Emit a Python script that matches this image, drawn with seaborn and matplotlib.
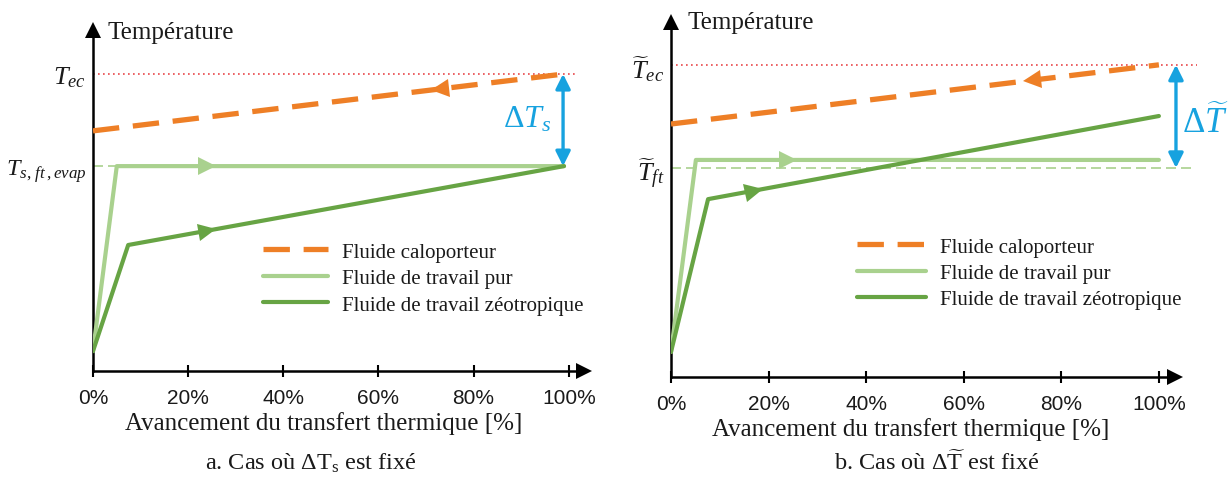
import numpy as np
import pandas as pd
import matplotlib
matplotlib.use("Agg")
import matplotlib.pyplot as plt
import seaborn as sns
from matplotlib.markers import MarkerStyle
from matplotlib.transforms import Affine2D

# ---------------- data (schematic temperature, arbitrary units 0-100) ----------------
x_ticks = [0, 20, 40, 60, 80, 100]
x_tick_labels = ["0%", "20%", "40%", "60%", "80%", "100%"]
series_names = ["Fluide caloporteur", "Fluide de travail pur", "Fluide de travail zéotropique"]

# panel a : Delta T_s fixed
x_calo_a = [0, 99]
T_calo_a = [68.8, 85.1]
x_pur_a = [0, 5, 99]
T_pur_a = [5.7, 58.7, 58.7]
x_zeo_a = [0, 7.4, 99]
T_zeo_a = [5.7, 36.1, 58.7]
T_ec_a = 85.1
T_s_a = 58.7
arrow_pos_a = [73, 24, 24]          # % position of direction arrows (calo, pur, zeo)

# panel b : Delta T~ fixed
x_calo_b = [0, 100]
T_calo_b = [69.7, 86.0]
x_pur_b = [0, 5.1, 100]
T_pur_b = [6.9, 59.8, 59.8]
x_zeo_b = [0, 7.6, 100]
T_zeo_b = [6.9, 49.0, 71.9]
T_ec_b = 86.0
T_ft_b = 57.6
arrow_pos_b = [74, 24, 17]

# ---------------- style ----------------
sns.set_style("white")
plt.rcParams["font.family"] = ["Liberation Serif", "DejaVu Serif"]
plt.rcParams["mathtext.fontset"] = "custom"
plt.rcParams["mathtext.rm"] = "Liberation Serif"
plt.rcParams["mathtext.it"] = "Liberation Serif:italic"
plt.rcParams["mathtext.bf"] = "Liberation Serif:bold"

ORANGE = "#EE7F26"
LIGHT = "#A9D18E"
DARK = "#67A444"
BLUE = "#17A2DF"
RED = "#E8474A"
TXT = "#1a1a1a"

W, H = 1232, 489
fig = plt.figure(figsize=(W / 100, H / 100), dpi=100)
fig.patch.set_facecolor("white")


def add_px_axes(x0, y_axis, x_end, y_top):
    return fig.add_axes([x0 / W, 1 - y_axis / H, (x_end - x0) / W, (y_axis - y_top) / H])


def screen_angle(ax, p0, p1):
    a = ax.transData.transform(p0)
    b = ax.transData.transform(p1)
    return np.degrees(np.arctan2(b[1] - a[1], b[0] - a[0]))


def draw_panel(ax, xmax, ymax, xs, ys, arrow_pos, legend_anchor, legend_handle_len):
    ax.set_xlim(0, xmax)
    ax.set_ylim(0, ymax)
    colors = [ORANGE, LIGHT, DARK]
    styles = [(0, (5, 2.6)), "-", "-"]
    widths = [3.8, 3.0, 3.0]
    for name, x, y, c, ls, lw in zip(series_names, xs, ys, colors, styles, widths):
        df = pd.DataFrame({"x": x, "T": y})
        sns.lineplot(data=df, x="x", y="T", ax=ax, color=c, linestyle=ls,
                     linewidth=lw, label=name, zorder=3)
    # direction arrows on the lines
    for i, (x, y, c, pos) in enumerate(zip(xs, ys, colors, arrow_pos)):
        ypos = np.interp(pos, x, y)
        seg = np.searchsorted(x, pos) - 1
        ang = screen_angle(ax, (x[seg], y[seg]), (x[seg + 1], y[seg + 1]))
        base = "<" if i == 0 else ">"
        m = MarkerStyle(base, transform=Affine2D().rotate_deg(ang))
        ax.plot([pos], [ypos], marker=m, markersize=13, color=c,
                markeredgewidth=0, linestyle="none", zorder=4)
    # axes
    for s in ["top", "right"]:
        ax.spines[s].set_visible(False)
    for s in ["left", "bottom"]:
        ax.spines[s].set_linewidth(1.8)
        ax.spines[s].set_color("black")
    ax.plot(1, 0, marker=">", markersize=12, color="black", transform=ax.transAxes,
            clip_on=False, markeredgewidth=0)
    ax.plot(0, 1, marker="^", markersize=12, color="black", transform=ax.transAxes,
            clip_on=False, markeredgewidth=0)
    ax.set_xticks(x_ticks, x_tick_labels, fontfamily="Liberation Sans", fontsize=15, color=TXT)
    ax.tick_params(axis="x", direction="inout", length=9, width=1.5, color="black", pad=8,
                   bottom=True)
    ax.tick_params(axis="y", length=0, pad=5, left=True)
    ax.set_xlabel("Avancement du transfert thermique [%]", fontsize=18, color=TXT)
    ax.set_ylabel("")
    leg = ax.legend(loc="upper left", bbox_to_anchor=legend_anchor, bbox_transform=fig.transFigure,
                    frameon=False, fontsize=15, handlelength=legend_handle_len, handletextpad=0.7,
                    labelspacing=0.33, borderpad=0, borderaxespad=0)
    for t in leg.get_texts():
        t.set_color(TXT)


# ---------------- panel a ----------------
axa = add_px_axes(93, 372, 584, 31)
draw_panel(axa, 103.2, 97.7,
           [x_calo_a, x_pur_a, x_zeo_a], [T_calo_a, T_pur_a, T_zeo_a],
           arrow_pos_a, (263 / W, 1 - 243 / H), 3.1)
axa.set_yticks([T_ec_a, T_s_a], [r"$T_{ec}$", r"$T_{s,\,ft\,,evap}$"], fontsize=19, color=TXT)
axa.get_yticklabels()[1].set_fontsize(17.5)
axa.plot([0, 101.7], [T_ec_a, T_ec_a], linestyle=(0, (1, 2)), color=RED, linewidth=1.2,
         clip_on=False, zorder=2)
axa.plot([0, 5], [T_s_a, T_s_a], linestyle=(0, (6, 3)), color=LIGHT, linewidth=1.2, zorder=2)
axa.annotate("", xy=(98.8, T_s_a), xytext=(98.8, T_ec_a), annotation_clip=False,
             arrowprops=dict(arrowstyle="<|-|>", color=BLUE, lw=2.4, mutation_scale=22,
                             shrinkA=0, shrinkB=0))
axa.text(91.2, 72.2, r"$\Delta T_s$", color=BLUE, fontsize=23, ha="center", va="center")
axa.xaxis.set_label_coords(0.47, -0.118)
fig.text(108 / W, 1 - 33 / H, "Température", fontsize=18, color=TXT, ha="left", va="center")

# ---------------- panel b ----------------
axb = add_px_axes(671, 378, 1175, 23)
draw_panel(axb, 103.3, 97.8,
           [x_calo_b, x_pur_b, x_zeo_b], [T_calo_b, T_pur_b, T_zeo_b],
           arrow_pos_b, (857 / W, 1 - 238 / H), 3.3)
axb.set_yticks([T_ec_b, T_ft_b], [r"$\widetilde{T}_{ec}$", r"$\widetilde{T}_{ft}$"],
               fontsize=19, color=TXT)
axb.plot([0, 107.8], [T_ec_b, T_ec_b], linestyle=(0, (1, 2)), color=RED, linewidth=1.2,
         clip_on=False, zorder=2)
axb.plot([0, 107.4], [T_ft_b, T_ft_b], linestyle=(0, (6, 3)), color=LIGHT, linewidth=1.2,
         clip_on=False, zorder=2)
axb.annotate("", xy=(103.5, T_ft_b), xytext=(103.5, T_ec_b), annotation_clip=False,
             arrowprops=dict(arrowstyle="<|-|>", color=BLUE, lw=2.4, mutation_scale=22,
                             shrinkA=0, shrinkB=0))
axb.text(109.6, 70.2, r"$\Delta\widetilde{T}$", color=BLUE, fontsize=25, ha="center", va="center")
axb.xaxis.set_label_coords(0.475, -0.113)
fig.text(687 / W, 1 - 23 / H, "Température", fontsize=18, color=TXT, ha="left", va="center")

# ---------------- captions ----------------
fig.text(311 / W, 1 - 463 / H, r"a. Cas où $\Delta\mathrm{T}_{\mathrm{s}}$ est fixé",
         fontsize=17.5, color=TXT, ha="center", va="center")
fig.text(937 / W, 1 - 463 / H, r"b. Cas où $\Delta\widetilde{\mathrm{T}}$ est fixé",
         fontsize=17.5, color=TXT, ha="center", va="center")

fig.savefig("out.png", dpi=100, facecolor="white")
